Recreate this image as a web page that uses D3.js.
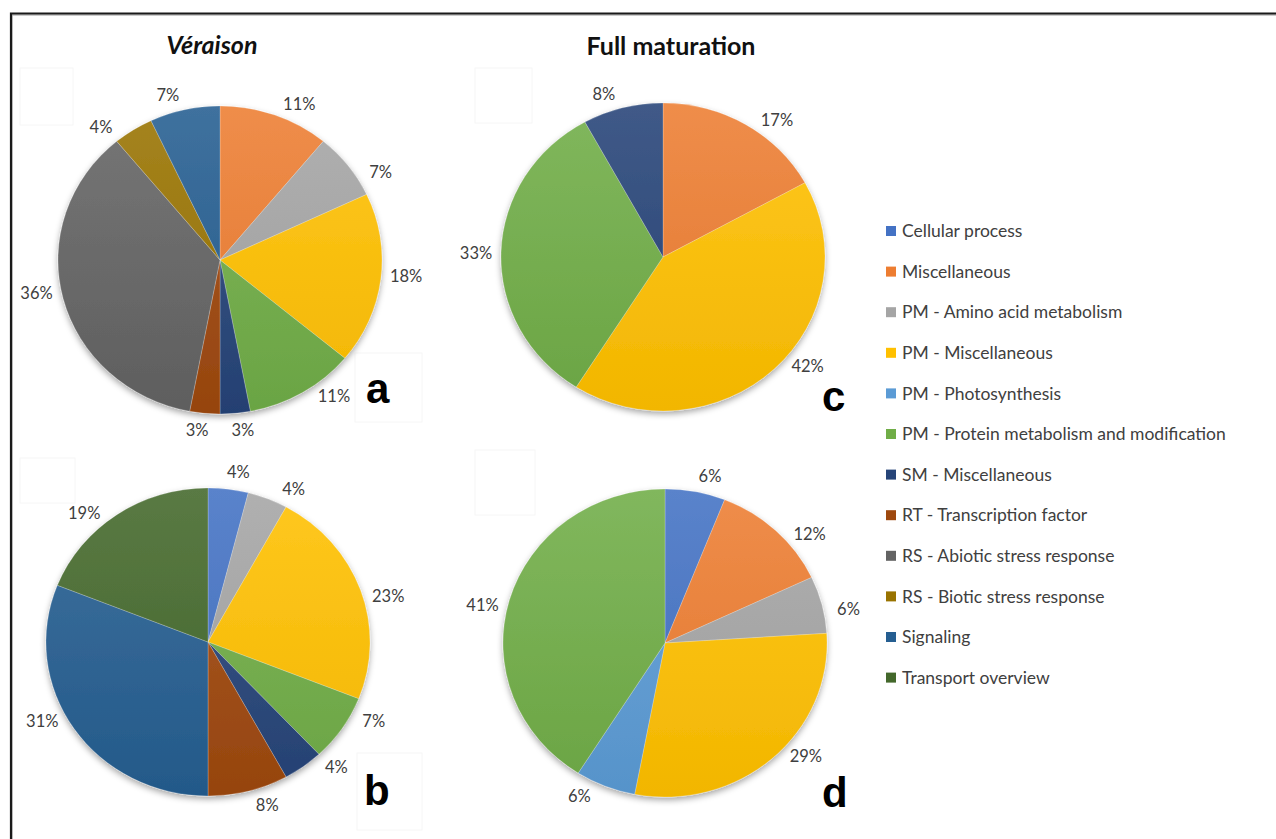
<!DOCTYPE html>
<html>
<head>
<meta charset="utf-8">
<script src="https://cdn.jsdelivr.net/npm/d3@7"></script>
<style>
  body { margin: 0; background: #fff; }
  svg { display: block; }
</style>
</head>
<body>
<div id="chart"></div>
<script>
// categories in legend order
var categories = [
  "Cellular process",
  "Miscellaneous",
  "PM - Amino acid metabolism",
  "PM - Miscellaneous",
  "PM - Photosynthesis",
  "PM - Protein metabolism and modification",
  "SM - Miscellaneous",
  "RT - Transcription factor",
  "RS - Abiotic stress response",
  "RS - Biotic stress response",
  "Signaling",
  "Transport overview"
];
var colors = ["#4472C4", "#ED7D31", "#A5A5A5", "#FFC000", "#5B9BD5", "#70AD47",
              "#264478", "#9E480E", "#636363", "#997300", "#255E91", "#43682B"];

// percentages per category (same order as categories)
var veraisonA = [0, 11, 7, 18, 0, 11, 3, 3, 36, 4, 7, 0];
var veraisonB = [4, 0, 4, 23, 0, 7, 4, 8, 0, 0, 31, 19];
var maturationC = [0, 17, 0, 42, 0, 33, 8, 0, 0, 0, 0, 0];
var maturationD = [6, 12, 6, 29, 6, 41, 0, 0, 0, 0, 0, 0];

var titles = ["Véraison", "Full maturation"];
var panelLetters = ["a", "b", "c", "d"];

var width = 1276, height = 839;
var rx = 162, ry = 154;

var svg = d3.select("#chart").append("svg")
    .attr("width", width)
    .attr("height", height);

var defs = svg.append("defs");
var shadow = defs.append("filter").attr("id", "shadow")
    .attr("x", "-10%").attr("y", "-10%").attr("width", "120%").attr("height", "125%");
shadow.append("feDropShadow")
    .attr("dx", 0).attr("dy", 3).attr("stdDeviation", 3)
    .attr("flood-color", "#000").attr("flood-opacity", 0.35);

// frame (only top and left show in the picture)
svg.append("path")
    .attr("d", "M11,839 V13.5 H1276")
    .attr("fill", "none").attr("stroke", "#bbb").attr("stroke-width", 1.5)
    .attr("transform", "translate(1,1.5)");
svg.append("path")
    .attr("d", "M11,839 V13.5 H1276")
    .attr("fill", "none").attr("stroke", "#1a1a1a").attr("stroke-width", 2.2);

// faint leftover text-box outlines
var faint = [[20, 68, 53, 57], [355, 353, 67, 69], [475, 68, 57, 55], [20, 458, 55, 45], [357, 753, 65, 77], [475, 450, 60, 65]];
svg.selectAll(".faint").data(faint).enter().append("rect")
    .attr("x", function(d) { return d[0]; })
    .attr("y", function(d) { return d[1]; })
    .attr("width", function(d) { return d[2]; })
    .attr("height", function(d) { return d[3]; })
    .attr("fill", "none").attr("stroke", "#f6f6f6").attr("stroke-width", 1);

// titles
svg.append("text")
    .attr("x", 212).attr("y", 54)
    .attr("text-anchor", "middle")
    .style("font-family", "Lato, 'Open Sans', sans-serif")
    .style("font-weight", "bold").style("font-style", "italic")
    .style("font-size", "25px").attr("fill", "#111")
    .text(titles[0]);
svg.append("text")
    .attr("x", 671).attr("y", 55)
    .attr("text-anchor", "middle")
    .style("font-family", "Lato, 'Open Sans', sans-serif")
    .style("font-weight", "bold")
    .style("font-size", "25px").attr("fill", "#111")
    .text(titles[1]);

var pie = d3.pie()
    .sort(null)
    .value(function(d) { return d.value; });

var arc = d3.arc()
    .innerRadius(0)
    .outerRadius(ry);

var panels = [
  { values: veraisonA, cx: 220, cy: 260, letter: panelLetters[0], lx: 366, ly: 403 },
  { values: veraisonB, cx: 208, cy: 642, letter: panelLetters[1], lx: 364, ly: 805 },
  { values: maturationC, cx: 663, cy: 257, letter: panelLetters[2], lx: 822, ly: 411 },
  { values: maturationD, cx: 665, cy: 643, letter: panelLetters[3], lx: 822, ly: 807 }
];

var sx = rx / ry;

panels.forEach(function(p, pi) {
  var data = [];
  for (var i = 0; i < categories.length; i++) {
    if (p.values[i] > 0) {
      data.push({ idx: i, name: categories[i], value: p.values[i] });
    }
  }

  // vertical gradient per colour for this pie
  data.forEach(function(d) {
    var g = defs.append("linearGradient")
        .attr("id", "grad" + pi + "_" + d.idx)
        .attr("gradientUnits", "userSpaceOnUse")
        .attr("x1", 0).attr("x2", 0).attr("y1", -ry).attr("y2", ry);
    var c = d3.color(colors[d.idx]);
    g.append("stop").attr("offset", "0%").attr("stop-color", d3.interpolateRgb(c, "#fff")(0.12));
    g.append("stop").attr("offset", "100%").attr("stop-color", c.darker(0.15));
  });

  var g = svg.append("g")
      .attr("transform", "translate(" + p.cx + "," + p.cy + ")");

  var slices = g.append("g")
      .attr("transform", "scale(" + sx + ",1)")
      .attr("filter", "url(#shadow)");

  slices.selectAll("path")
      .data(pie(data))
      .enter().append("path")
      .attr("d", arc)
      .attr("fill", function(d) { return "url(#grad" + pi + "_" + d.data.idx + ")"; })
      .attr("stroke", "rgba(255,255,255,0.35)")
      .attr("stroke-width", 0.6);

  // outside-end style labels
  g.selectAll(".lbl")
      .data(pie(data))
      .enter().append("text")
      .attr("class", "lbl")
      .attr("transform", function(d) {
        var a = (d.startAngle + d.endAngle) / 2;
        var t = Math.atan2(1.3 * Math.sin(a), Math.cos(a));
        var x = (rx + 25) * Math.sin(t);
        var y = -(ry + 18) * Math.cos(t);
        return "translate(" + x + "," + y + ")";
      })
      .attr("text-anchor", "middle")
      .attr("dy", "0.35em")
      .style("font-family", "Lato, 'Open Sans', sans-serif")
      .style("font-size", "16.5px")
      .attr("fill", "#404040")
      .text(function(d) { return d.data.value + "%"; });

  svg.append("text")
      .attr("x", p.lx).attr("y", p.ly)
      .style("font-family", "'Liberation Sans', Arial, sans-serif")
      .style("font-weight", "bold")
      .style("font-size", "42px")
      .attr("fill", "#000")
      .text(p.letter);
});

// legend
var legend = svg.append("g").attr("transform", "translate(886,231)");
var rows = legend.selectAll(".row")
    .data(categories)
    .enter().append("g")
    .attr("class", "row")
    .attr("transform", function(d, i) { return "translate(0," + (i * 40.6) + ")"; });
rows.append("rect")
    .attr("x", 0).attr("y", -5)
    .attr("width", 10).attr("height", 10)
    .attr("fill", function(d, i) { return colors[i]; });
rows.append("text")
    .attr("x", 16).attr("dy", "0.35em")
    .style("font-family", "Lato, 'Open Sans', sans-serif")
    .style("font-size", "17.5px")
    .attr("fill", "#404040")
    .text(function(d) { return d; });
</script>
</body>
</html>
